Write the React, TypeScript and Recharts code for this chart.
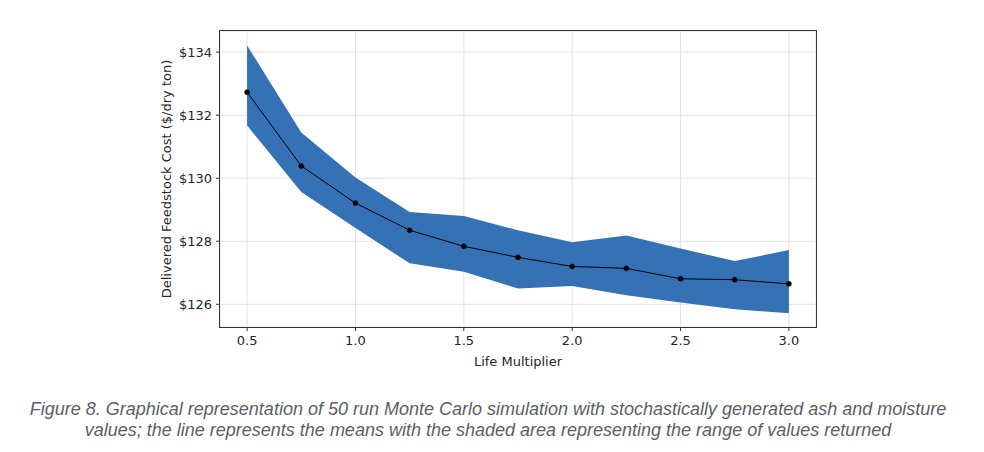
import {
  ComposedChart,
  Area,
  Line,
  XAxis,
  YAxis,
  CartesianGrid,
} from "recharts";

const multipliers = [0.5, 0.75, 1.0, 1.25, 1.5, 1.75, 2.0, 2.25, 2.5, 2.75, 3.0];
const meanCost = [132.73, 130.39, 129.21, 128.35, 127.84, 127.49, 127.2, 127.14, 126.81, 126.78, 126.65];
const maxCost = [134.21, 131.45, 130.02, 128.93, 128.8, 128.35, 127.97, 128.18, 127.77, 127.37, 127.72];
const minCost = [131.67, 129.56, 128.42, 127.3, 127.03, 126.5, 126.58, 126.29, 126.06, 125.84, 125.72];

const xTicks = [0.5, 1.0, 1.5, 2.0, 2.5, 3.0];
const yTicks = [126, 128, 130, 132, 134];

const data = multipliers.map((m, i) => ({
  m,
  mean: meanCost[i],
  range: [minCost[i], maxCost[i]],
}));

const tickStyle = { fill: "#262626", fontSize: 13, fontFamily: "DejaVu Sans" };

// plot box: margin.left + YAxis width, margin.top, inner size
const PLOT = { left: 220, top: 31, width: 596, height: 296 };

const App = () => {
  return (
    <div style={{ position: "absolute", left: 0, top: 0, width: 984, height: 452, background: "#fff" }}>
      <ComposedChart
        width={984}
        height={380}
        data={data}
        margin={{ top: PLOT.top, right: 984 - PLOT.left - PLOT.width, left: 0, bottom: 13 }}
      >
        <CartesianGrid stroke="#e3e3e3" strokeWidth={1} />
        <XAxis
          dataKey="m"
          type="number"
          domain={[0.375, 3.125]}
          ticks={xTicks}
          tickFormatter={(v: number) => v.toFixed(1)}
          height={40}
          tickSize={4}
          tickMargin={5}
          tick={tickStyle}
          axisLine={false}
          stroke="#333"
          label={{
            value: "Life Multiplier",
            position: "insideBottom",
            offset: 1,
            style: { fill: "#262626", fontSize: 13, fontFamily: "DejaVu Sans" },
          }}
        />
        <YAxis
          type="number"
          domain={[125.28, 134.67]}
          ticks={yTicks}
          tickFormatter={(v: number) => `$${v}`}
          width={PLOT.left}
          tickSize={4}
          tickMargin={4}
          tick={tickStyle}
          axisLine={false}
          stroke="#333"
          label={{
            value: "Delivered Feedstock Cost ($/dry ton)",
            angle: -90,
            position: "center",
            dx: 56,
            style: { fill: "#262626", fontSize: 13, fontFamily: "DejaVu Sans", textAnchor: "middle" },
          }}
        />
        <Area
          dataKey="range"
          type="linear"
          stroke="none"
          fill="#3472b5"
          fillOpacity={1}
          isAnimationActive={false}
        />
        <Line
          dataKey="mean"
          type="linear"
          stroke="#000"
          strokeWidth={1}
          dot={{ r: 2.5, fill: "#000", stroke: "#000", strokeWidth: 0.5 }}
          isAnimationActive={false}
        />
      </ComposedChart>
      {/* full frame around the plot area */}
      <div
        style={{
          position: "absolute",
          left: PLOT.left - 1,
          top: PLOT.top - 1,
          width: PLOT.width + 2,
          height: PLOT.height + 2,
          boxSizing: "border-box",
          border: "1px solid #333",
          pointerEvents: "none",
        }}
      />
      <div
        style={{
          marginTop: 19,
          paddingRight: 8,
          textAlign: "center",
          fontFamily: "'Liberation Sans', sans-serif",
          fontStyle: "italic",
          fontSize: 18,
          lineHeight: "21px",
          color: "#5a5f66",
        }}
      >
        Figure 8. Graphical representation of 50 run Monte Carlo simulation with stochastically generated ash and moisture
        <br />
        values; the line represents the means with the shaded area representing the range of values returned
      </div>
    </div>
  );
};

export default App;
